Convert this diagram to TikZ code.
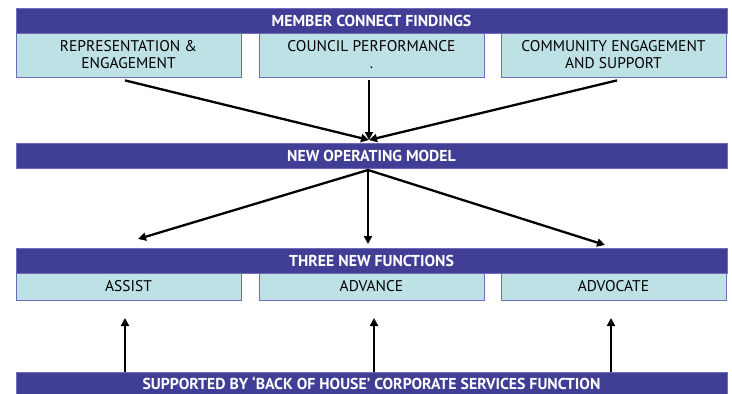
\documentclass[tikz,border=0pt]{standalone}
\usepackage{fontspec}
\setmainfont{PT Sans}
\usetikzlibrary{arrows.meta}
\definecolor{barblue}{HTML}{413F95}
\definecolor{boxcyan}{HTML}{BEE1E6}
\definecolor{boxedge}{HTML}{6F6DBB}
\tikzset{
  bar/.style={fill=barblue, draw=boxedge, line width=0.8pt, minimum width=711pt, inner sep=0pt,
    text=white, font=\bfseries\fontsize{15.8}{17}\selectfont, align=center},
  subbox/.style={fill=boxcyan, draw=boxedge, line width=0.8pt, minimum width=225pt, inner sep=0pt,
    text=black, font=\fontsize{15.5}{17}\selectfont, align=center},
  conn/.style={line width=2.3pt, -{Triangle[length=8pt,width=8pt]}}
}
\begin{document}
\begin{tikzpicture}[x=1pt,y=-1pt]
\useasboundingbox (0,0) rectangle (732,394);
% top
\node[bar, minimum height=25pt] (mcf) at (371.5,20.5) {MEMBER CONNECT FINDINGS};
\node[subbox, minimum height=44pt] (rep) at (128.5,55) {REPRESENTATION \&\\ENGAGEMENT};
\node[subbox, minimum height=44pt] (cp) at (371.5,55) {COUNCIL PERFORMANCE\\.};
\node[subbox, minimum height=44pt] (ces) at (613.5,55) {COMMUNITY ENGAGEMENT\\AND SUPPORT};
% middle
\node[bar, minimum height=25pt] (nom) at (371.5,155.5) {NEW OPERATING MODEL};
% functions
\node[bar, minimum height=25pt] (tnf) at (371.5,260.5) {THREE NEW FUNCTIONS};
\node[subbox, minimum height=27pt] (assist) at (128.5,286.5) {ASSIST};
\node[subbox, minimum height=27pt] (advance) at (371.5,286.5) {ADVANCE};
\node[subbox, minimum height=27pt] (advocate) at (613.5,286.5) {ADVOCATE};
% bottom
\node[bar, minimum height=23pt] (boh) at (371.5,383.5) {SUPPORTED BY ‘BACK OF HOUSE’ CORPORATE SERVICES FUNCTION};
% coordinates
\coordinate (in) at (369,140);
\coordinate (out) at (368,170);
\coordinate (t1) at (138,239);
\coordinate (t2) at (368,244);
\coordinate (t3) at (605,245);
\coordinate (s1) at (125,372);
\coordinate (s2) at (374,372);
\coordinate (s3) at (611,372);
\coordinate (u1) at (125,318);
\coordinate (u2) at (374,318);
\coordinate (u3) at (611,318);
% connectors
\draw[conn] ([xshift=-3.5pt,yshift=-3pt]rep.south) -- (in);
\draw[conn] ([xshift=-2.5pt,yshift=-3pt]cp.south) -- (in);
\draw[conn] ([xshift=3.5pt,yshift=-3pt]ces.south) -- (in);
\draw[conn] (out) -- (t1);
\draw[conn] (out) -- (t2);
\draw[conn] (out) -- (t3);
\draw[conn] (s1) -- (u1);
\draw[conn] (s2) -- (u2);
\draw[conn] (s3) -- (u3);
\end{tikzpicture}
\end{document}
